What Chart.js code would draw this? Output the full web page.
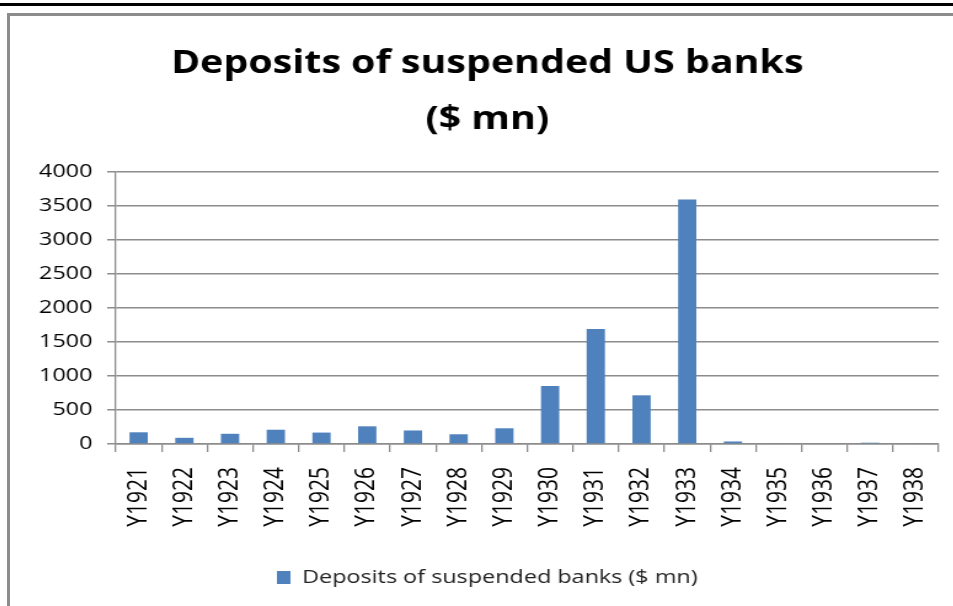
<!DOCTYPE html>
<html>
<head>
<meta charset="UTF-8">
<title>Deposits of suspended US banks</title>
<script src="https://cdn.jsdelivr.net/npm/chart.js@4"></script>
<style>
  html, body { margin: 0; padding: 0; background: #fff; overflow: hidden; }
  body { width: 953px; height: 606px; position: relative; }
  .topline { position: absolute; left: 0; top: 3px; width: 953px; height: 3px; background: #000; }
  .frame { position: absolute; left: 7px; top: 13px; width: 946px; height: 593px;
           border-left: 3px solid #8c8c8c; border-top: 3px solid #8c8c8c; }
  /* the source picture is stretched sideways, so stretch the chart the same way */
  .chart-container { position: absolute; left: 10px; top: 16px; width: 767px; height: 590px;
                     transform: scaleX(1.23); transform-origin: 0 0; }
</style>
</head>
<body>
<div class="topline"></div>
<div class="frame"></div>
<div class="chart-container"><canvas id="c"></canvas></div>
<script>
// values (close to the Friedman & Schwartz series)
var years = ['Y1921','Y1922','Y1923','Y1924','Y1925','Y1926','Y1927','Y1928','Y1929',
             'Y1930','Y1931','Y1932','Y1933','Y1934','Y1935','Y1936','Y1937','Y1938'];
var deposits = [172, 91, 150, 210, 168, 260, 199, 143, 231, 853, 1691, 716, 3597, 37, 10, 11, 19, 10];
var yTicks = [0, 500, 1000, 1500, 2000, 2500, 3000, 3500, 4000];

var titleLines = ['Deposits of suspended US banks', '($ mn)'];
var seriesName = 'Deposits of suspended banks ($ mn)';

var FONT = '"Open Sans", sans-serif';
var GRID = '#8c8c8c';

new Chart(document.getElementById('c'), {
    type: 'bar',
    data: {
        labels: years,
        datasets: [{
            label: seriesName,
            data: deposits,
            backgroundColor: '#4f81bd',
            borderWidth: 0,
            categoryPercentage: 1,
            barPercentage: 0.4
        }]
    },
    options: {
        responsive: true,
        maintainAspectRatio: false,
        animation: false,
        // left padding shifts the centred title and legend to where they sit in the source
        layout: { padding: { left: 21, right: 12, top: 0, bottom: 9 } },
        plugins: {
            title: {
                display: true,
                text: titleLines,
                color: '#000',
                font: { family: FONT, size: 32, weight: 'bold', lineHeight: 1.75 },
                padding: { top: 20, bottom: 24 }
            },
            legend: {
                position: 'bottom',
                labels: {
                    color: '#222',
                    font: { family: FONT, size: 19 },
                    boxWidth: 11,
                    boxHeight: 13,
                    padding: 10
                }
            },
            tooltip: { enabled: false }
        },
        scales: {
            x: {
                offset: true,
                grid: {
                    offset: true,
                    drawOnChartArea: false,
                    drawTicks: true,
                    tickLength: 8,
                    color: GRID,
                    lineWidth: 1.3
                },
                border: { color: GRID, width: 1.5 },
                ticks: {
                    color: '#000',
                    font: { family: FONT, size: 21 },
                    minRotation: 90,
                    maxRotation: 90,
                    autoSkip: false,
                    padding: 15
                },
                afterFit: function(scale) {
                    scale.height = 114;
                    // rotated labels otherwise push the plot in from the right
                    scale.paddingLeft = 0;
                    scale.paddingRight = 0;
                }
            },
            y: {
                min: 0,
                max: 4000,
                afterBuildTicks: function(scale) {
                    scale.ticks = yTicks.map(function(v) { return { value: v }; });
                },
                grid: { color: GRID, lineWidth: 1.5, tickLength: 7 },
                border: { color: GRID, width: 1.3 },
                ticks: {
                    color: '#000',
                    font: { family: FONT, size: 19 },
                    padding: 12,
                    callback: function(v) { return String(v); }
                },
                afterFit: function(scale) { scale.width = 65; }
            }
        }
    }
});
</script>
</body>
</html>
